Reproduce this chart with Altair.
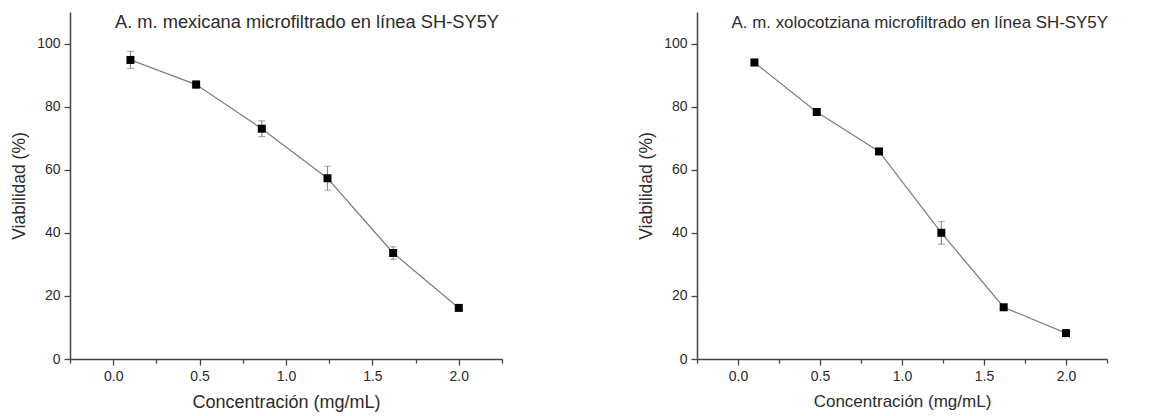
import altair as alt
import pandas as pd

# Concentrations tested (mg/mL)
conc = [0.1, 0.48, 0.86, 1.24, 1.62, 2.0]

# Cell viability (%) and standard deviation, A. m. mexicana
mex_via = [94.8, 87.0, 73.0, 57.3, 33.6, 16.2]
mex_err = [2.7, 1.2, 2.5, 3.8, 2.0, 0.6]

# Cell viability (%) and standard deviation, A. m. xolocotziana
xol_via = [94.0, 78.3, 65.8, 40.0, 16.4, 8.2]
xol_err = [1.0, 0.7, 0.8, 3.6, 0.8, 0.5]

titles = [
    "A. m. mexicana microfiltrado en línea SH-SY5Y",
    "A. m. xolocotziana microfiltrado en línea SH-SY5Y",
]

x_ticks = [-0.25, 0.0, 0.25, 0.5, 0.75, 1.0, 1.25, 1.5, 1.75, 2.0, 2.25]
y_ticks = [0, 10, 20, 30, 40, 50, 60, 70, 80, 90, 100, 110]

FONT = "Liberation Sans"
TEXT = "#2b2b2b"
AXIS = "#444444"
H = 347


def panel(via, err, title, width, title_size, title_x, xtitle_size):
    df = pd.DataFrame({
        "conc": conc,
        "via": via,
        "lo": [v - e for v, e in zip(via, err)],
        "hi": [v + e for v, e in zip(via, err)],
    })
    x = alt.X(
        "conc:Q",
        scale=alt.Scale(domain=[-0.25, 2.25], nice=False, zero=False),
        axis=alt.Axis(
            title="Concentración (mg/mL)",
            titleFontSize=xtitle_size,
            titlePadding=10,
            values=x_ticks,
            format=".1f",
            labelExpr="abs(round(datum.value*2) - datum.value*2) < 0.001 && datum.value >= 0 && datum.value <= 2 ? datum.label : ''",
            labelOverlap=False,
            tickSize={"condition": {"test": "abs(round(datum.value*2) - datum.value*2) < 0.001", "value": 6}, "value": 4},
            grid=False,
        ),
    )
    y = alt.Y(
        "via:Q",
        scale=alt.Scale(domain=[0, 110], nice=False),
        axis=alt.Axis(
            title="Viabilidad (%)",
            titleFontSize=17.5,
            values=y_ticks,
            labelExpr="datum.value % 20 === 0 && datum.value <= 100 ? datum.label : ''",
            labelOverlap=False,
            tickSize={"condition": {"test": "datum.value % 20 === 0 && datum.value <= 100", "value": 6}, "value": 4},
            grid=False,
        ),
    )
    base = alt.Chart(df)
    line = base.mark_line(color="#808080", strokeWidth=1.3).encode(x=x, y=y)
    bar = base.mark_rule(color="#8a8a8a", strokeWidth=1.2).encode(x="conc:Q", y="lo:Q", y2="hi:Q")
    cap_lo = base.mark_tick(orient="horizontal", size=7, thickness=1.2, color="#8a8a8a").encode(x="conc:Q", y="lo:Q")
    cap_hi = base.mark_tick(orient="horizontal", size=7, thickness=1.2, color="#8a8a8a").encode(x="conc:Q", y="hi:Q")
    pts = base.mark_square(size=64, color="black", opacity=1).encode(x="conc:Q", y="via:Q")
    label = alt.Chart(pd.DataFrame({"t": [title]})).mark_text(
        align="right", baseline="middle", font=FONT, fontSize=title_size, color=TEXT
    ).encode(text="t:N", x=alt.value(title_x), y=alt.value(11))
    return alt.layer(line, bar, cap_lo, cap_hi, pts, label).properties(width=width, height=H)


left = panel(mex_via, mex_err, titles[0], 432, 18.3, 429, 18)
right = panel(xol_via, xol_err, titles[1], 410, 16.9, 411, 17)

chart = alt.hconcat(left, right, spacing=134).properties(
    padding={"left": 10, "top": 12, "right": 5, "bottom": 5},
    background="white",
).configure_view(stroke=None).configure_axis(
    labelFont=FONT,
    labelFontSize=14,
    labelColor=TEXT,
    labelPadding=4,
    titleFont=FONT,
    titleFontWeight="normal",
    titleColor=TEXT,
    titlePadding=8,
    domainColor=AXIS,
    domainWidth=1.5,
    tickColor=AXIS,
    tickWidth=1.3,
)

chart.save("out.html", embed_options={"renderer": "svg", "actions": False})
